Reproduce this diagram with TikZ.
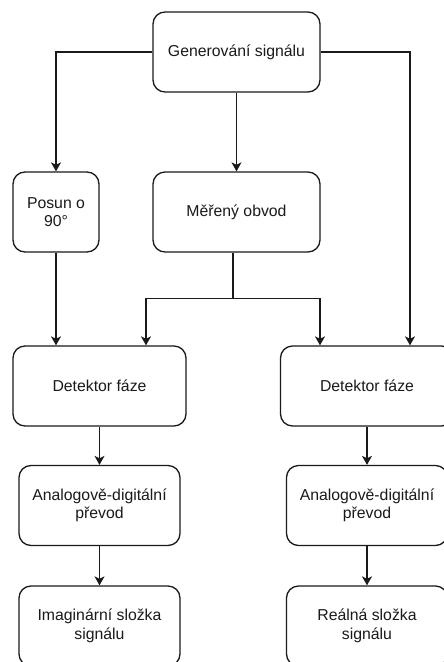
\documentclass[tikz,border=0pt]{standalone}
\usepackage{fontspec}
\setmainfont{Liberation Sans}
\usetikzlibrary{arrows.meta}
\definecolor{ink}{HTML}{1A1A1A}
\tikzset{
  block/.style={draw=ink, line width=1.3pt, rounded corners=12pt, fill=white,
    text=ink, align=center, inner sep=0pt,
    font=\fontsize{15.8}{18.5}\selectfont},
  wide/.style={block, minimum width=167pt, minimum height=80pt},
  narrow/.style={block, minimum width=86pt, minimum height=80pt},
  det/.style={block, minimum width=173pt, minimum height=80pt},
  adc/.style={block, minimum width=161pt, minimum height=80pt},
  link/.style={draw=ink, line width=1.3pt,
    -{Stealth[length=9pt,width=10pt,inset=2.5pt]}},
  wire/.style={draw=ink, line width=1.3pt},
}
\begin{document}
\begin{tikzpicture}[x=1pt, y=-1pt]
  \useasboundingbox (0,0) rectangle (444,662);
  \clip (0,0) rectangle (444,662);
  \fill[white] (0,0) rectangle (444,662);

  % blocks
  \node[wide]   (gen)  at (236.5,52)  {Generování signálu};
  \node[narrow] (shift) at (56,212)   {Posun o\\90°};
  \node[wide]   (meas) at (236.5,212) {Měřený obvod};
  \node[det]    (detL) at (99.5,386)  {Detektor fáze};
  \node[det]    (detR) at (367,386)   {Detektor fáze};
  \node[adc]    (adcL) at (99.5,505.5){Analogově-digitální\\převod};
  \node[adc]    (adcR) at (367,505.5) {Analogově-digitální\\převod};
  \node[adc]    (imag) at (99.5,626)  {Imaginární složka\\signálu};
  \node[adc]    (real) at (367,626)   {Reálná složka\\signálu};

  % reference signal paths
  \draw[link] (gen.west) -| (shift.north);
  \draw[link] (gen.south) -- (meas.north);
  \draw[link] (gen.east) -| ([xshift=43pt]detR.north);
  \draw[link] (shift.south) -- (shift.south |- detL.north);

  % measured signal split to both detectors
  \draw[wire] ([xshift=-3.5pt]meas.south) -- ++(0,46) coordinate (split);
  \draw[link] (split) -| ([xshift=46.5pt]detL.north);
  \draw[link] (split) -| ([xshift=-47pt]detR.north);

  % processing chains
  \draw[link] (detL.south) -- (adcL.north);
  \draw[link] (detR.south) -- (adcR.north);
  \draw[link] (adcL.south) -- (imag.north);
  \draw[link] (adcR.south) -- (real.north);
\end{tikzpicture}
\end{document}
